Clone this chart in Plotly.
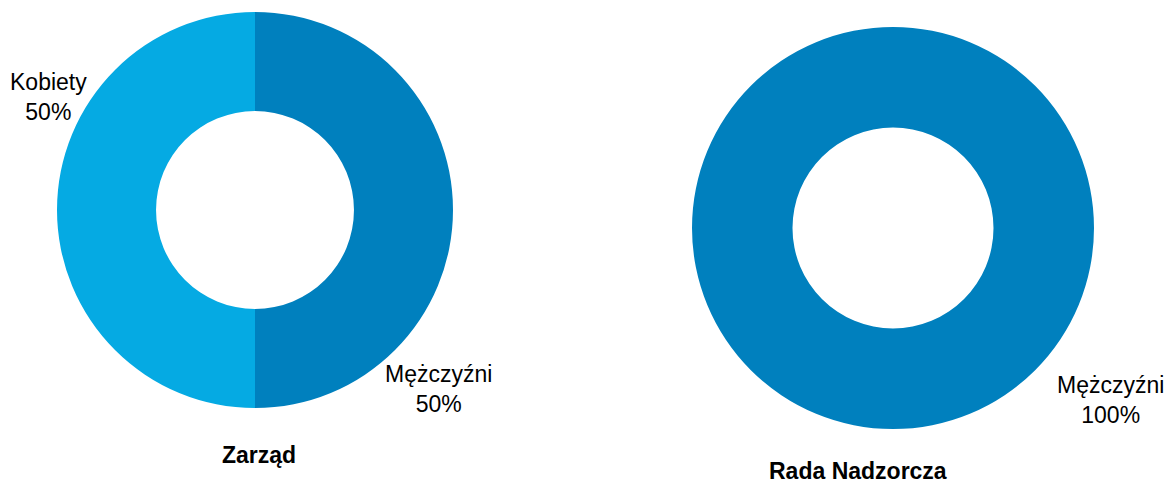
import plotly.graph_objects as go

W, H = 1169, 485

labels = ["Mężczyźni", "Kobiety"]
zarzad_values = [50, 50]
rada_values = [100, 0]
titles = ["Zarząd", "Rada Nadzorcza"]

DARK = "#0080BE"
LIGHT = "#05AAE3"
colors = [DARK, LIGHT]

def px_dom(x0, x1, y0, y1):
    return dict(x=[x0 / W, x1 / W], y=[1 - y1 / H, 1 - y0 / H])

fig = go.Figure()

fig.add_trace(go.Pie(
    labels=labels, values=zarzad_values, sort=False, direction="clockwise",
    hole=0.5, marker=dict(colors=colors, line=dict(width=0)),
    textinfo="none", hoverinfo="label+percent", showlegend=False,
    domain=px_dom(57, 453, 12, 408),
))

r_labels = [l for l, v in zip(labels, rada_values) if v > 0]
r_vals = [v for v in rada_values if v > 0]
r_cols = [c for c, v in zip(colors, rada_values) if v > 0]
fig.add_trace(go.Pie(
    labels=r_labels, values=r_vals, sort=False, direction="clockwise",
    hole=0.5, marker=dict(colors=r_cols, line=dict(width=0)),
    textinfo="none", hoverinfo="label+percent", showlegend=False,
    domain=px_dom(692, 1094, 27, 429),
))

def pct(vals, i):
    return f"{round(100 * vals[i] / sum(vals))}%"

font = dict(family="Liberation Sans, Arial, sans-serif", size=23, color="#000000")
bold = dict(family="Liberation Sans, Arial, sans-serif", size=23, color="#000000")

annos = [
    (48, 97, f"{labels[1]}<br>{pct(zarzad_values, 1)}", font, "middle"),
    (438, 389, f"{labels[0]}<br>{pct(zarzad_values, 0)}", font, "middle"),
    (1110, 400, f"{labels[0]}<br>{pct(rada_values, 0)}", font, "middle"),
    (259, 455, f"<b>{titles[0]}</b>", bold, "middle"),
    (858, 487, f"<b>{titles[1]}</b>", bold, "bottom"),
]
for x, y, t, f, ya in annos:
    fig.add_annotation(x=x / W, y=max(0, 1 - y / H), xref="paper", yref="paper",
                       text=t, showarrow=False, font=f, borderpad=0,
                       xanchor="center", yanchor=ya, align="center")

fig.update_layout(
    width=W, height=H, margin=dict(l=0, r=0, t=0, b=0),
    paper_bgcolor="white", plot_bgcolor="white",
)

fig.write_html("out.html", config={"displayModeBar": False},
               post_script="document.body.style.margin='0';document.body.style.overflow='hidden';")
